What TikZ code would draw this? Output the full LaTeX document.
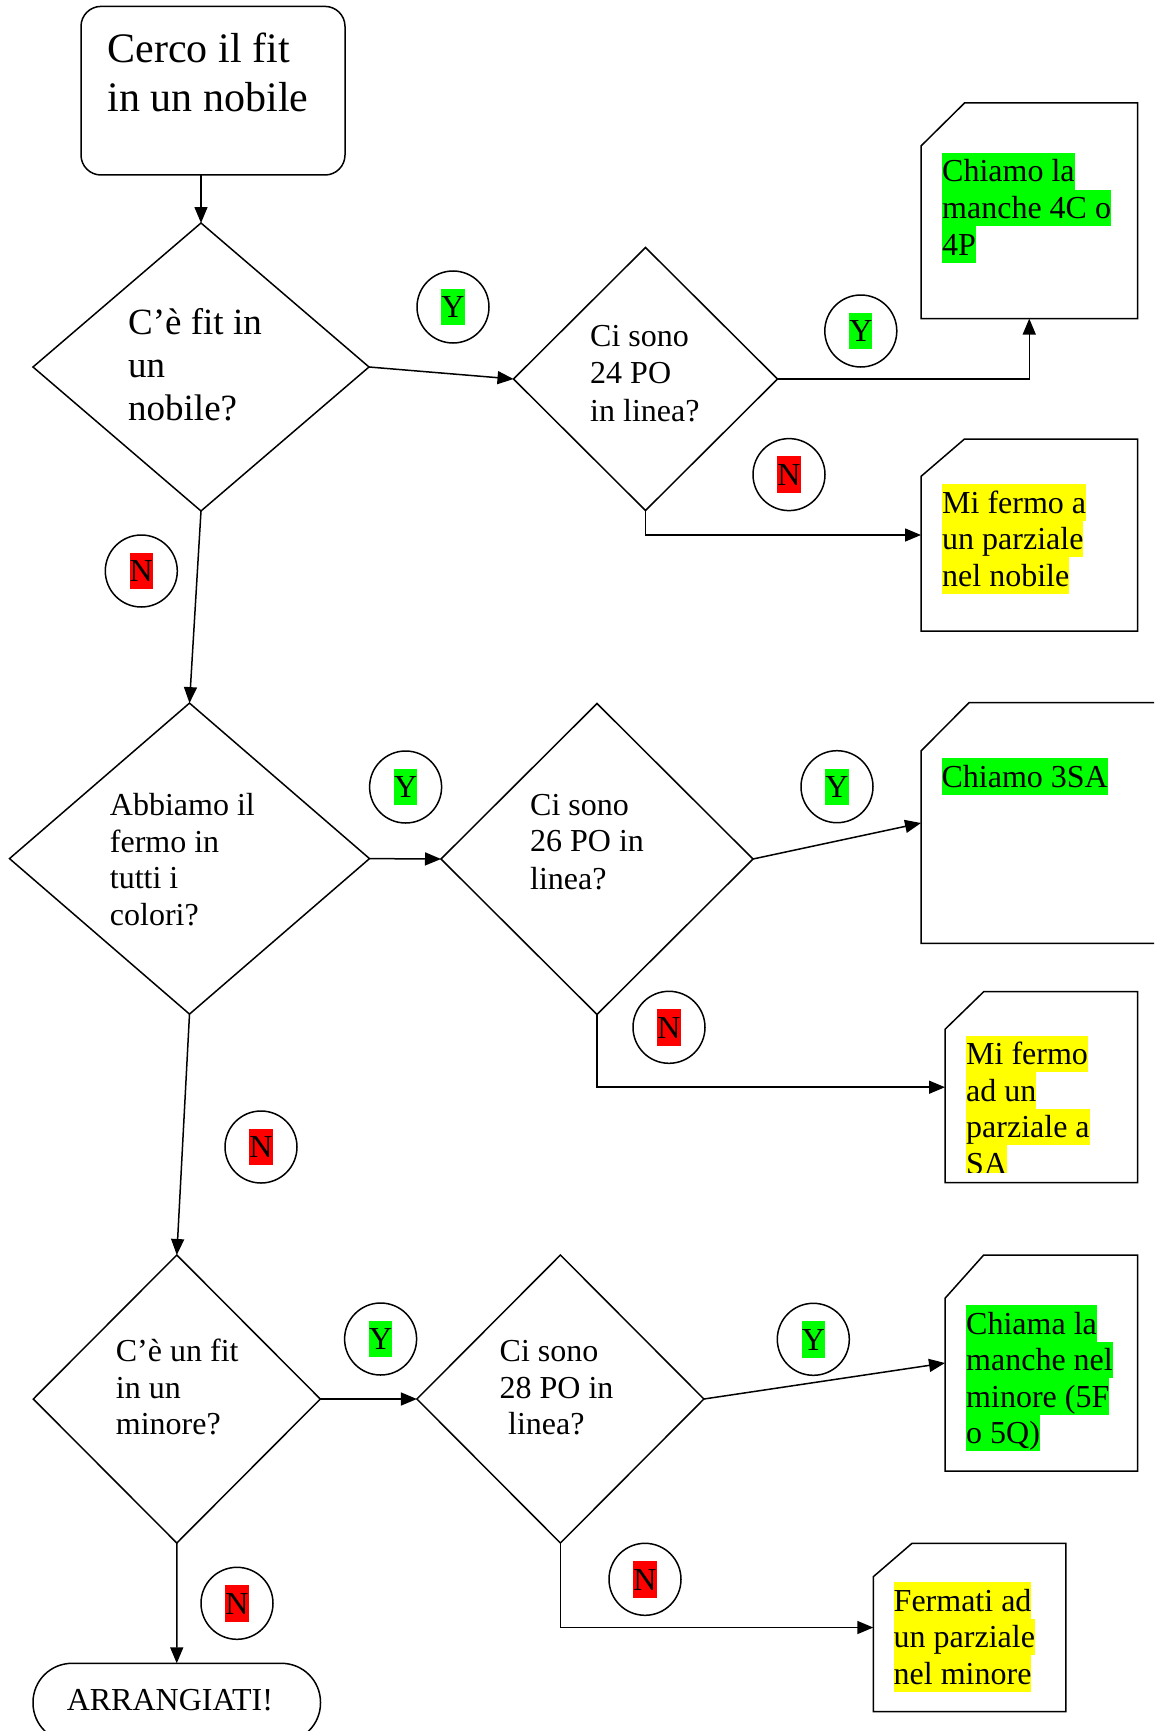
\documentclass[tikz,border=0pt]{standalone}
\usepackage{fontspec}
\setmainfont{Liberation Serif}
\usetikzlibrary{shapes.geometric,arrows.meta}
\definecolor{hlgreen}{HTML}{00FF00}
\definecolor{hlyellow}{HTML}{FFFF00}
\definecolor{hlred}{HTML}{FF0000}
\newcommand\hlmark[2]{{\setlength\fboxsep{0pt}\colorbox{#1}{\vrule height 29pt depth 7.4pt width 0pt #2}}}
\newcommand\chamfer[3]{\draw[ln, line join=miter] ([yshift=-#3pt]#1.north west) -- ([xshift=#2pt]#1.north west) -- (#1.north east) -- (#1.south east) -- (#1.south west) -- cycle;}
\tikzset{
 ln/.style={line width=1.5pt},
 arr/.style={ln, -{Triangle[length=16pt,width=13pt]}},
 dia/.style={diamond, draw, ln, inner sep=0pt, outer sep=0pt, aspect=1},
 slot/.style={rectangle, draw=none, inner sep=0pt, outer sep=0pt},
 lbl/.style={circle, draw, ln, minimum size=72pt, inner sep=0pt, font=\fontsize{32}{36.8}\selectfont},
 txt/.style={anchor=base west, inner sep=0pt, font=\fontsize{32}{36.8}\selectfont},
 bigtxt/.style={txt, font=\fontsize{37}{42}\selectfont},
 starttxt/.style={txt, font=\fontsize{42}{49}\selectfont},
 hl/.style={txt, fill=#1, text height=29pt, text depth=7.6pt},
}
\begin{document}
\begin{tikzpicture}[x=1pt,y=-1pt]
\useasboundingbox (0,0) rectangle (1154,1731);
\clip (0,0) rectangle (1154,1731);

% start
\node[rectangle, draw, ln, rounded corners=20pt, inner sep=0pt, outer sep=0pt, minimum width=264, minimum height=168.6] (start) at (213,90.7) {};
\node[starttxt] (st1) at (107.5,62.5) {Cerco il fit};
\node[starttxt] (st2) at (107.5,111.4) {in un nobile};

% diamonds
\node[dia, minimum width=336, minimum height=288] (d1) at (201,367) {};
\node[dia, minimum width=264, minimum height=263] (d2) at (645.5,379) {};
\node[dia, minimum width=360, minimum height=311] (d3) at (189.5,858.6) {};
\node[dia, minimum width=312, minimum height=311] (d4) at (597,859) {};
\node[dia, minimum width=287, minimum height=288] (d5) at (176.8,1399) {};
\node[dia, minimum width=287, minimum height=288] (d6) at (560.4,1399) {};

% diamond texts
\node[bigtxt] (t11) at (128,334) {C’è fit in};
\node[bigtxt] (t12) at (128,377) {un};
\node[bigtxt] (t13) at (128,420) {nobile?};
\node[txt] (t21) at (590,346) {Ci sono};
\node[txt] (t22) at (590,383.6) {24 PO};
\node[txt] (t23) at (590,421) {in linea?};
\node[txt] (t31) at (109.7,815) {Abbiamo il};
\node[txt] (t32) at (109.7,852) {fermo in};
\node[txt] (t33) at (109.7,888.8) {tutti i};
\node[txt] (t34) at (109.7,925.7) {colori?};
\node[txt] (t41) at (530,815) {Ci sono};
\node[txt] (t42) at (530,851.7) {26 PO in};
\node[txt] (t43) at (530,889) {linea?};
\node[txt] (t51) at (115.7,1361.7) {C’è un fit};
\node[txt] (t52) at (115.7,1398.3) {in un};
\node[txt] (t53) at (115.7,1434.3) {minore?};
\node[txt] (t61) at (499.5,1361.7) {Ci sono};
\node[txt] (t62) at (499.5,1398.3) {28 PO in};
\node[txt] (t63) at (508,1434.3) {linea?};

% result boxes
\node[slot, minimum width=216.5, minimum height=215.6] (A) at (1029.25,210.8) {};
\node[slot, minimum width=216.5, minimum height=192] (B) at (1029.25,535) {};
\node[slot, minimum width=269, minimum height=240.6] (C) at (1055.5,823) {};
\node[slot, minimum width=192.5, minimum height=191] (D) at (1041.25,1087.2) {};
\node[slot, minimum width=192.5, minimum height=216] (E) at (1041.25,1363) {};
\node[slot, minimum width=192.5, minimum height=168.4] (F) at (969.55,1627.5) {};
\chamfer{A}{43.5}{43}
\chamfer{B}{43.5}{37.4}
\chamfer{C}{48}{48.3}
\chamfer{D}{38.7}{37.6}
\chamfer{E}{38.7}{43.3}
\chamfer{F}{38.7}{33.4}

\node[hl=hlgreen] (a1) at (942,182) {Chiamo la};
\node[hl=hlgreen] (a2) at (942,218.6) {manche 4C o};
\node[hl=hlgreen] (a3) at (942,255.2) {4P};
\node[hl=hlyellow] (b1) at (942,513) {Mi fermo a};
\node[hl=hlyellow] (b2) at (942,549.6) {un parziale};
\node[hl=hlyellow] (b3) at (942,586.2) {nel nobile};
\node[hl=hlgreen] (c1) at (941.4,787.3) {Chiamo 3SA};
\begin{scope}
\clip (945,991.7) rectangle (1137.5,1172.7);
\node[hl=hlyellow] (e1) at (966,1064.5) {Mi fermo};
\node[hl=hlyellow] (e2) at (966,1101.1) {ad un};
\node[hl=hlyellow] (e3) at (966,1137.7) {parziale a};
\node[hl=hlyellow] (e4) at (966,1174.3) {SA};
\end{scope}
\node[hl=hlgreen] (f1) at (966,1334) {Chiama la};
\node[hl=hlgreen] (f2) at (966,1370.6) {manche nel};
\node[hl=hlgreen] (f3) at (966,1407.2) {minore (5F};
\node[hl=hlgreen] (f4) at (966,1443.8) {o 5Q)};
\node[hl=hlyellow] (g1) at (893.5,1611) {Fermati ad};
\node[hl=hlyellow] (g2) at (893.5,1647.6) {un parziale};
\node[hl=hlyellow] (g3) at (893.5,1684.2) {nel minore};

% terminator
\node[rectangle, draw, ln, rounded corners=39pt, inner sep=0pt, outer sep=0pt, minimum width=287.5, minimum height=78.7] (arrg) at (176.75,1702.65) {};
\node[txt] (arrt) at (66.6,1710) {ARRANGIATI!};

% labels
\node[lbl] (y1) at (453,307) {\hlmark{hlgreen}{Y}};
\node[lbl] (y2) at (860.8,331) {\hlmark{hlgreen}{Y}};
\node[lbl] (n1) at (789,474.6) {\hlmark{hlred}{N}};
\node[lbl] (n0) at (141.3,571) {\hlmark{hlred}{N}};
\node[lbl] (y3) at (405.6,787) {\hlmark{hlgreen}{Y}};
\node[lbl] (y4) at (837,786.7) {\hlmark{hlgreen}{Y}};
\node[lbl] (n3) at (669,1027.3) {\hlmark{hlred}{N}};
\node[lbl] (n2) at (261,1147) {\hlmark{hlred}{N}};
\node[lbl] (y5) at (380.6,1339) {\hlmark{hlgreen}{Y}};
\node[lbl] (y6) at (813.3,1339.3) {\hlmark{hlgreen}{Y}};
\node[lbl] (n5) at (237,1603.3) {\hlmark{hlred}{N}};
\node[lbl] (n6) at (645,1579.3) {\hlmark{hlred}{N}};

% connectors
\draw[arr] (d1.north |- start.south) -- (d1.north);
\draw[arr] (d1.east) -- (d2.west);
\draw[arr] (d2.east) -| (A.south);
\draw[arr] (d2.south) |- (B.west);
\draw[arr] (d1.south) -- (d3.north);
\draw[arr] (d3.east) -- (d4.west);
\draw[arr] (d4.east) -- (C.west);
\draw[arr] (d4.south) |- (D.west);
\draw[arr] (d3.south) -- (d5.north);
\draw[arr] (d5.east) -- (d6.west);
\draw[arr] (d6.east) -- (E.west);
\draw[arr] (d6.south) |- (F.west);
\draw[arr] (d5.south) -- (arrg.north);
\end{tikzpicture}
\end{document}
